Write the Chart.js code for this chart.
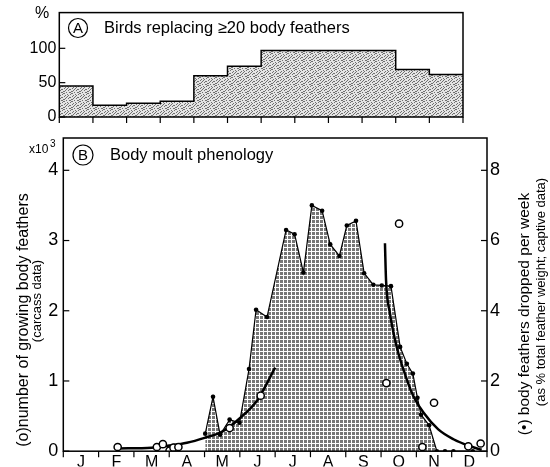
<!DOCTYPE html>
<html>
<head>
<meta charset="utf-8">
<script src="https://cdn.jsdelivr.net/npm/chart.js@4/dist/chart.umd.min.js"></script>
<style>
  html, body { margin: 0; padding: 0; background: #fff; }
  #wrap { position: relative; width: 550px; height: 467px; overflow: hidden; }
  #wrap canvas { position: absolute; left: 0; top: 0; }
</style>
</head>
<body>
<div id="wrap">
  <canvas id="panelA" width="550" height="467"></canvas>
  <canvas id="panelB" width="550" height="467"></canvas>
</div>
<script>
// ---- data ----
const months = ['J', 'F', 'M', 'A', 'M', 'J', 'J', 'A', 'S', 'O', 'N', 'D'];

// Panel A: % of birds replacing >= 20 body feathers, per month
const birdsPct = [45, 17, 20, 23, 60, 74, 97, 97, 97, 97, 69, 62];
const pctTicks = [0, 50, 100];

// Panel B: captive data, body feathers dropped per week (% of total feather weight)
const captiveMonth = [4.02, 4.24, 4.44, 4.71, 4.99, 5.26, 5.46, 5.77, 6.31, 6.55, 6.80,
  7.04, 7.33, 7.56, 7.82, 8.03, 8.29, 8.52, 8.78, 9.02, 9.28, 9.54, 9.73, 9.90, 10.03,
  10.13, 10.36, 10.58, 10.81, 11.05, 11.60];
const captiveDrop = [0.50, 1.55, 0.47, 0.90, 0.81, 2.34, 4.03, 3.82, 6.30, 6.18, 5.09,
  7.00, 6.85, 5.89, 5.56, 6.43, 6.56, 5.07, 4.74, 4.72, 4.70, 2.97, 2.49, 2.21, 1.52,
  1.04, 0.74, 0, 0, 0, 0];

// Panel B: carcass data, growing body feathers (x 10^3)
const carcassMonth = [1.54, 2.65, 2.82, 3.01, 3.12, 3.26, 4.71, 5.59, 9.15, 9.51, 10.17, 10.50, 11.47, 11.82];
const carcassCount = [0.06, 0.06, 0.10, 0.01, 0.05, 0.06, 0.33, 0.79, 0.97, 3.24, 0.06, 0.69, 0.07, 0.11];

// Fitted curves through the carcass data (x 10^3)
const riseMonth = [1.55, 2.5, 3.0, 3.5, 4.0, 4.5, 5.0, 5.5, 6.0];
const riseCount = [0.04, 0.05, 0.08, 0.12, 0.19, 0.28, 0.47, 0.73, 1.19];
const fallMonth = [9.11, 9.14, 9.25, 9.44, 9.73, 9.92, 10.2, 10.62, 11.05, 11.52, 11.85];
const fallCount = [2.96, 2.44, 1.97, 1.49, 1.02, 0.78, 0.55, 0.31, 0.17, 0.07, 0.02];

const leftTicks = [0, 1, 2, 3, 4];
const rightTicks = [0, 2, 4, 6, 8];

// ---- helpers ----
const FONT = '"Liberation Sans", Arial, Helvetica, sans-serif';
const pts = (xs, ys) => xs.map((x, i) => ({ x, y: ys[i] }));

function makePattern(size, paint) {
  const c = document.createElement('canvas');
  c.width = size; c.height = size;
  const g = c.getContext('2d');
  paint(g);
  return g.createPattern(c, 'repeat');
}
// light scattered stipple for panel A
const stippleDots = [[0,0],[3,0],[6,1],[1,2],[4,2],[7,3],[2,4],[5,4],[0,5],[3,6],[6,6],[1,7],[4,7],[7,5],[5,1],[2,1],[0,3],[6,4]];
const stipple = makePattern(8, g => {
  g.fillStyle = '#e4e4e4'; g.fillRect(0, 0, 8, 8);
  g.fillStyle = '#707070';
  stippleDots.forEach(([x, y]) => g.fillRect(x, y, 1, 1));
});
// darker screen for panel B
const screen = makePattern(4, g => {
  g.fillStyle = '#777'; g.fillRect(0, 0, 4, 4);
  g.fillStyle = '#fff'; g.fillRect(3, 0, 1, 4); g.fillRect(0, 3, 4, 1);
});

function line(ctx, x1, y1, x2, y2) {
  ctx.beginPath(); ctx.moveTo(x1, y1); ctx.lineTo(x2, y2); ctx.stroke();
}
function circledLetter(ctx, letter, cx, cy, r) {
  ctx.beginPath(); ctx.arc(cx, cy, r, 0, Math.PI * 2); ctx.lineWidth = 1.2; ctx.stroke();
  ctx.font = '15px ' + FONT; ctx.textAlign = 'center'; ctx.textBaseline = 'middle';
  ctx.fillText(letter, cx, cy + 0.5);
}
function vText(ctx, text, x, y, font) {
  ctx.save(); ctx.translate(x, y); ctx.rotate(-Math.PI / 2);
  ctx.font = font; ctx.textAlign = 'center'; ctx.textBaseline = 'middle';
  ctx.fillText(text, 0, 0); ctx.restore();
}
const setTicks = vals => scale => { scale.ticks = vals.map(v => ({ value: v })); };

// ---- Panel A ----
const panelAFrame = {
  id: 'panelAFrame',
  afterDraw(chart) {
    const { ctx, chartArea: a, scales } = chart;
    ctx.save();
    ctx.strokeStyle = '#000'; ctx.fillStyle = '#000'; ctx.lineWidth = 1.5;
    ctx.strokeRect(a.left, a.top, a.right - a.left, a.bottom - a.top);
    ctx.lineWidth = 1.2;
    pctTicks.forEach(v => { const y = scales.y.getPixelForValue(v); line(ctx, a.left, y, a.left + 6, y); });
    for (let i = 0; i <= 12; i++) { const x = scales.x.getPixelForValue(i); line(ctx, x, a.bottom, x, a.bottom + 6); }
    ctx.font = '16px ' + FONT; ctx.textAlign = 'center'; ctx.textBaseline = 'middle';
    ctx.fillText('%', 42, 14);
    circledLetter(ctx, 'A', 78, 28, 9.5);
    ctx.font = '16.5px ' + FONT; ctx.textAlign = 'left'; ctx.textBaseline = 'middle';
    ctx.fillText('Birds replacing \u226520 body feathers', 104, 28);
    ctx.restore();
  }
};

new Chart(document.getElementById('panelA'), {
  type: 'line',
  data: {
    datasets: [{
      data: pts([...months.keys(), 12], [...birdsPct, birdsPct[11]]),
      stepped: true,
      borderColor: '#000',
      borderWidth: 1.5,
      backgroundColor: stipple,
      fill: 'origin',
      pointRadius: 0
    }]
  },
  options: {
    responsive: false, animation: false,
    layout: { padding: { top: 8.3, right: 87, bottom: 332, left: 0 } },
    plugins: { legend: { display: false }, tooltip: { enabled: false } },
    scales: {
      x: {
        type: 'linear', min: 0, max: 12,
        grid: { display: false, drawTicks: false }, border: { display: false },
        ticks: { display: false },
        afterFit: s => { s.height = 18; }
      },
      y: {
        min: 0, max: 152,
        grid: { display: false, drawTicks: false }, border: { display: false },
        afterBuildTicks: setTicks(pctTicks),
        ticks: { font: { family: FONT, size: 16 }, color: '#000', padding: 3 },
        afterFit: s => { s.width = 59.3; }
      }
    }
  },
  plugins: [panelAFrame]
});

// ---- Panel B ----
const panelBFrame = {
  id: 'panelBFrame',
  afterDraw(chart) {
    const { ctx, chartArea: a, scales } = chart;
    ctx.save();
    ctx.strokeStyle = '#000'; ctx.fillStyle = '#000'; ctx.lineWidth = 1.5;
    ctx.strokeRect(a.left, a.top, a.right - a.left, a.bottom - a.top);
    ctx.lineWidth = 1.2;
    leftTicks.forEach(v => { const y = scales.y.getPixelForValue(v); line(ctx, a.left, y, a.left + 6, y); });
    rightTicks.forEach(v => { const y = scales.y2.getPixelForValue(v); line(ctx, a.right - 6, y, a.right, y); });
    for (let i = 0; i <= 12; i++) { const x = scales.x.getPixelForValue(i); line(ctx, x, a.bottom, x, a.bottom + 6); }

    // x 10^3 multiplier
    ctx.textAlign = 'left'; ctx.textBaseline = 'alphabetic';
    ctx.font = '12px ' + FONT; ctx.fillText('x10', 29, 153);
    ctx.font = '10px ' + FONT; ctx.fillText('3', 50, 147);

    circledLetter(ctx, 'B', 83, 155, 10);
    ctx.font = '16.5px ' + FONT; ctx.textAlign = 'left'; ctx.textBaseline = 'middle';
    ctx.fillText('Body moult phenology', 110, 155);

    // axis titles
    vText(ctx, '(o)number of growing body feathers', 24, 320, '16px ' + FONT);
    vText(ctx, '(carcass data)', 37, 301, '13px ' + FONT);
    vText(ctx, '(\u2022) body feathers dropped per week', 525, 314, '15.5px ' + FONT);
    vText(ctx, '(as % total feather weight; captive data)', 541, 292, '13px ' + FONT);
    ctx.restore();
  }
};

new Chart(document.getElementById('panelB'), {
  type: 'line',
  data: {
    datasets: [
      {
        label: 'carcass',
        data: pts(carcassMonth, carcassCount),
        yAxisID: 'y', showLine: false, order: 0,
        pointRadius: 3.6, pointBorderWidth: 1.5,
        pointBackgroundColor: '#fff', pointBorderColor: '#000'
      },
      {
        label: 'rise fit',
        data: pts(riseMonth, riseCount),
        yAxisID: 'y', order: 1,
        borderColor: '#000', borderWidth: 2.5, pointRadius: 0,
        cubicInterpolationMode: 'monotone', fill: false
      },
      {
        label: 'fall fit',
        data: pts(fallMonth, fallCount),
        yAxisID: 'y', order: 1,
        borderColor: '#000', borderWidth: 2.5, pointRadius: 0,
        cubicInterpolationMode: 'monotone', fill: false
      },
      {
        label: 'captive',
        data: pts(captiveMonth, captiveDrop),
        yAxisID: 'y2', order: 2,
        borderColor: '#000', borderWidth: 1.2,
        backgroundColor: screen, fill: 'origin',
        pointRadius: 2.3, pointBackgroundColor: '#000', pointBorderWidth: 0
      }
    ]
  },
  options: {
    responsive: false, animation: false,
    layout: { padding: { top: 138, right: 0, bottom: 0, left: 0 } },
    plugins: { legend: { display: false }, tooltip: { enabled: false } },
    scales: {
      x: {
        type: 'linear', min: 0, max: 12,
        grid: { display: false, drawTicks: false }, border: { display: false },
        afterBuildTicks: setTicks(months.map((m, i) => i + 0.5)),
        ticks: {
          font: { family: FONT, size: 16 }, color: '#000', padding: 2,
          maxRotation: 0, autoSkip: false,
          callback: (v, i) => months[i]
        },
        afterFit: s => { s.height = 15.3; }
      },
      y: {
        position: 'left', min: 0, max: 4.46,
        grid: { display: false, drawTicks: false }, border: { display: false },
        afterBuildTicks: setTicks(leftTicks),
        ticks: { font: { family: FONT, size: 18 }, color: '#000', padding: 5 },
        afterFit: s => { s.width = 63.3; }
      },
      y2: {
        position: 'right', min: 0, max: 8.92,
        grid: { display: false, drawTicks: false }, border: { display: false },
        afterBuildTicks: setTicks(rightTicks),
        ticks: { font: { family: FONT, size: 18 }, color: '#000', padding: 3 },
        afterFit: s => { s.width = 63; }
      }
    }
  },
  plugins: [panelBFrame]
});
</script>
</body>
</html>
